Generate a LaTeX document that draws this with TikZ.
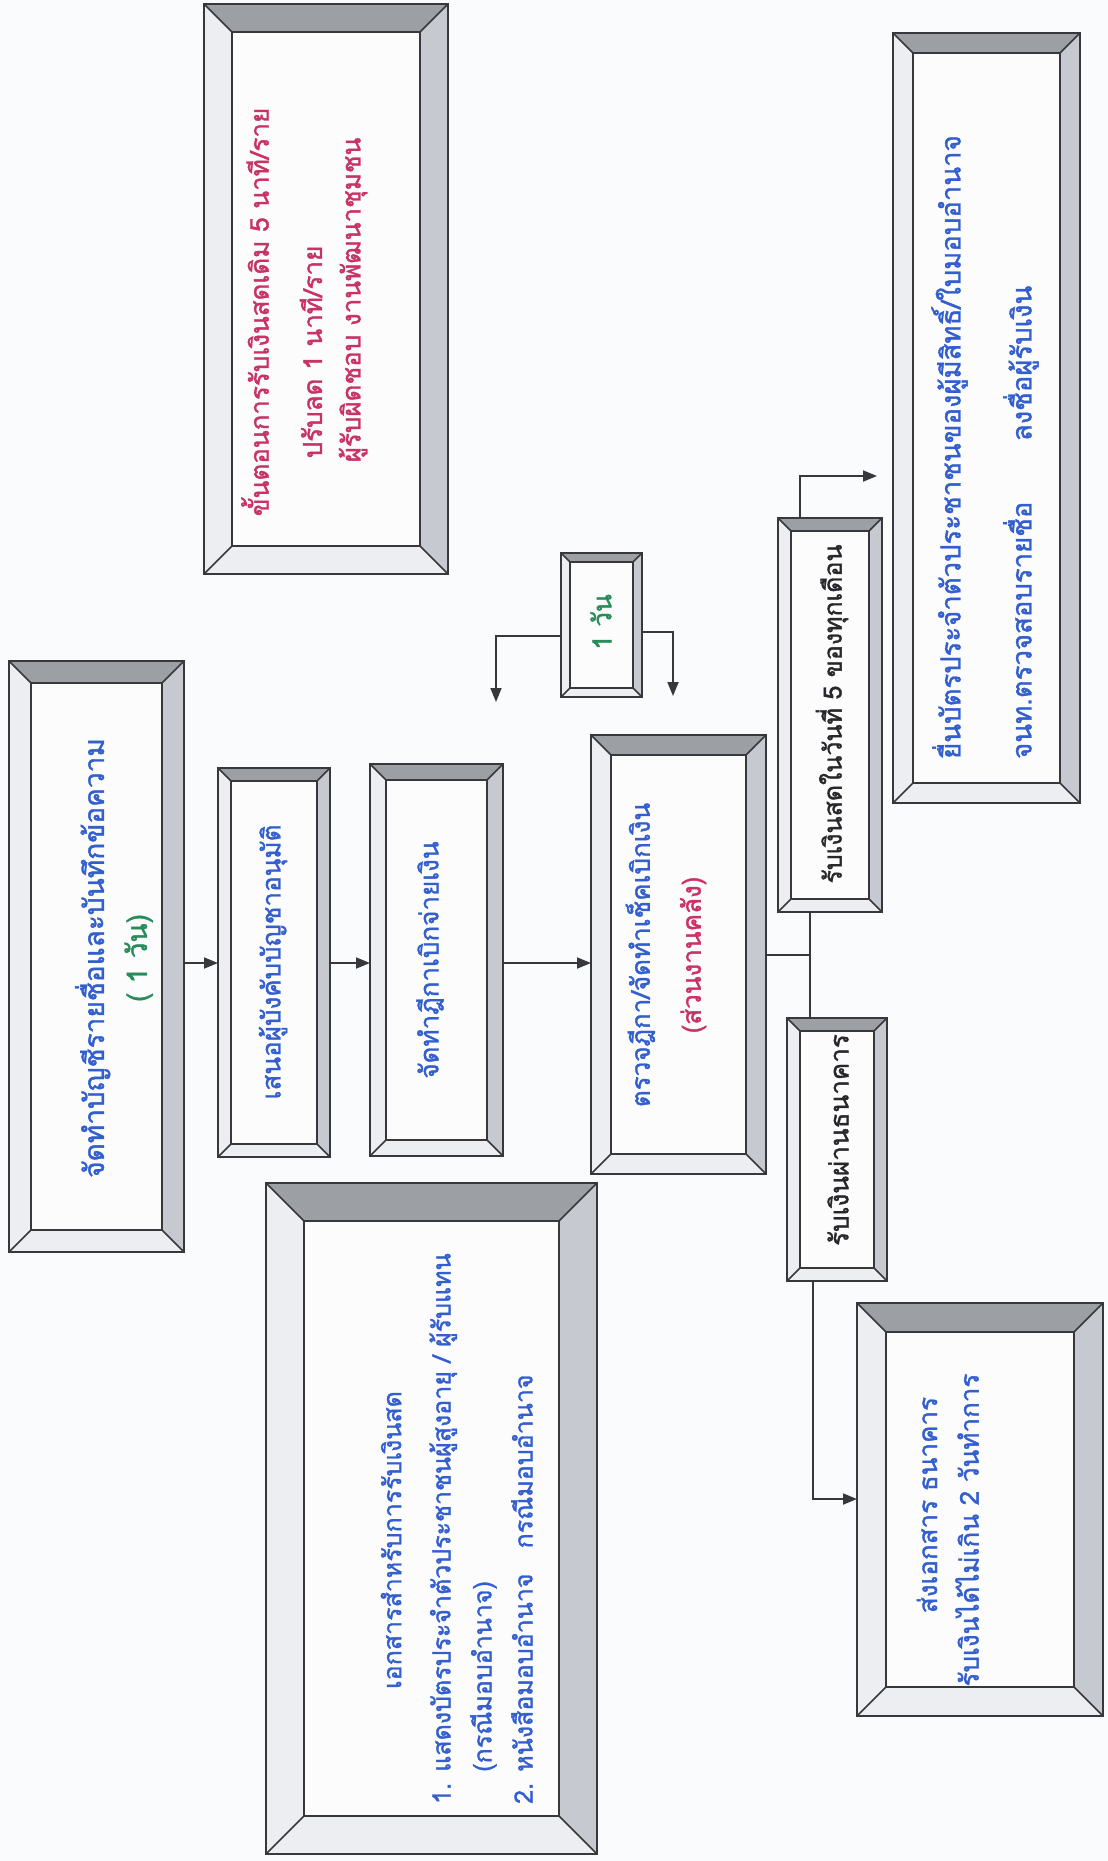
\documentclass[tikz,border=0pt]{standalone}
\usepackage{fontspec}
\newfontfamily\thai[Script=Thai, FakeBold=1.4]{Loma}
\usetikzlibrary{arrows.meta,calc}
\definecolor{bgc}{RGB}{250,251,252}
\definecolor{bvdark}{RGB}{156,159,164}
\definecolor{bvmid}{RGB}{198,202,208}
\definecolor{bvlight}{RGB}{236,238,241}
\definecolor{bvin}{RGB}{252,252,253}
\definecolor{lnc}{RGB}{55,55,60}
\definecolor{tblue}{RGB}{50,95,205}
\definecolor{tred}{RGB}{200,50,100}
\definecolor{tgreen}{RGB}{40,140,90}
\definecolor{tdark}{RGB}{40,40,44}
\tikzset{
  boxnode/.style={draw=none, inner sep=0pt, outer sep=0pt},
  bvline/.style={draw=lnc, line width=1.6pt, line join=miter},
  txt/.style={rotate=90, inner sep=0pt, font=\thai\fontsize{26}{46}\selectfont},
  conn/.style={draw=lnc, line width=1.8pt},
  arr/.style={conn, -{Triangle[length=14pt,width=11pt]}},
}
\newcommand\bevel[2]{%
  \fill[bvlight] (#1.north west) rectangle (#1.south east);
  \fill[bvdark] let \p1=(#1.north west), \p2=(#1.south east) in
    (\x1,\y1) -- (\x2,\y1) -- (\x2-#2pt,\y1-#2pt) -- (\x1+#2pt,\y1-#2pt) -- cycle;
  \fill[bvmid] let \p1=(#1.north west), \p2=(#1.south east) in
    (\x2,\y1) -- (\x2,\y2) -- (\x2-#2pt,\y2+#2pt) -- (\x2-#2pt,\y1-#2pt) -- cycle;
  \fill[bvin] let \p1=(#1.north west), \p2=(#1.south east) in
    (\x1+#2pt,\y1-#2pt) rectangle (\x2-#2pt,\y2+#2pt);
  \draw[bvline] let \p1=(#1.north west), \p2=(#1.south east) in
    (\x1,\y1) rectangle (\x2,\y2)
    (\x1+#2pt,\y1-#2pt) rectangle (\x2-#2pt,\y2+#2pt)
    (\x1,\y1) -- (\x1+#2pt,\y1-#2pt)
    (\x2,\y1) -- (\x2-#2pt,\y1-#2pt)
    (\x1,\y2) -- (\x1+#2pt,\y2+#2pt)
    (\x2,\y2) -- (\x2-#2pt,\y2+#2pt);
}
\newcommand\mkbox[6]{%
  \node[boxnode, minimum width={#4-#2}, minimum height={#5-#3}] (#1) at ({(#2+#4)/2},{(#3+#5)/2}) {};
  \bevel{#1}{#6}%
}
\begin{document}
\begin{tikzpicture}[x=1pt,y=-1pt]
\fill[bgc] (0,0) rectangle (1108,1861);
\useasboundingbox (0,0) rectangle (1108,1861);

\mkbox{b1}{204}{4}{448}{574}{28}
\mkbox{b2}{9}{661}{184}{1252}{22}
\mkbox{b3}{218}{768}{330}{1157}{13}
\mkbox{b4}{370}{764}{503}{1156}{16}
\mkbox{b5}{591}{735}{766}{1174}{20}
\mkbox{b6}{561}{553}{642}{697}{9}
\mkbox{b7}{778}{518}{882}{912}{13}
\mkbox{b8}{893}{33}{1080}{803}{20}
\mkbox{b9}{787}{1018}{887}{1281}{13}
\mkbox{b10}{857}{1303}{1103}{1716}{29}
\mkbox{b11}{266}{1183}{597}{1854}{38}

% texts
\node[txt, text=tred] (t1a) at (255,312) {ขั้นตอนการรับเงินสดเดิม 5 นาที/ราย};
\node[txt, text=tred] (t1b) at (311,352) {ปรับลด 1 นาที/ราย};
\node[txt, text=tred] (t1c) at (353,300) {ผู้รับผิดชอบ งานพัฒนาชุมชน};
\node[txt, align=center, font=\thai\fontsize{28}{43}\selectfont] (t2) at (114,958)
  {\textcolor{tblue}{จัดทำบัญชีรายชื่อและบันทึกข้อความ}\\\textcolor{tgreen}{( 1 วัน)}};
\node[txt, text=tblue] (t3) at (273,962) {เสนอผู้บังคับบัญชาอนุมัติ};
\node[txt, text=tblue] (t4) at (430,960) {จัดทำฎีกาเบิกจ่ายเงิน};
\node[txt, align=center, font=\thai\fontsize{26}{51}\selectfont] (t5) at (666,955)
  {\textcolor{tblue}{ตรวจฎีกา/จัดทำเช็คเบิกเงิน}\\\textcolor{tred}{(ส่วนงานคลัง)}};
\node[txt, text=tgreen] (t6) at (601,622) {1 วัน};
\node[txt, text=tdark, font=\thai\fontsize{25}{46}\selectfont] (t7) at (832,714) {รับเงินสดในวันที่ 5 ของทุกเดือน};
\node[txt, text=tblue, align=left, anchor=west, font=\thai\fontsize{27.5}{71}\selectfont] (t8) at (985,759)
  {ยื่นบัตรประจำตัวประชาชนของผู้มีสิทธิ์/ใบมอบอำนาจ\\จนท.ตรวจสอบรายชื่อ\hspace{2.2em}ลงชื่อผู้รับเงิน};
\node[txt, text=tdark] (t9) at (838,1140) {รับเงินผ่านธนาคาร};
\node[txt, text=tblue] (t10a) at (927,1505) {ส่งเอกสาร ธนาคาร};
\node[txt, text=tblue] (t10b) at (967,1530) {รับเงินได้ไม่เกิน 2 วันทำการ};
\node[txt, text=tblue, font=\thai\fontsize{25}{46}\selectfont] (t11a) at (391,1540) {เอกสารสำหรับการรับเงินสด};
\node[txt, text=tblue, align=left, anchor=west, font=\thai\fontsize{25}{41}\selectfont] (t11b) at (481,1804)
  {1. แสดงบัตรประจำตัวประชาชนผู้สูงอายุ / ผู้รับแทน\\\hphantom{1. }(กรณีมอบอำนาจ)\\2. หนังสือมอบอำนาจ\hspace{1em}กรณีมอบอำนาจ};

% connectors
\coordinate (ya) at (0,963);
\draw[arr] (b2.east |- ya) -- (b3.west |- ya);
\draw[arr] (b3.east |- ya) -- (b4.west |- ya);
\draw[arr] (b4.east |- ya) -- (b5.west |- ya);
\coordinate (J) at (810,955);
\draw[conn] (b5.east |- J) -- (J);
\draw[conn] (b7.south -| J) -- (b9.north -| J);
\coordinate (tA) at (800,476);
\coordinate (tB) at (877,476);
\draw[arr] (b7.north -| tA) -- (tA) -- (tB);
\coordinate (bA) at (813,1499);
\draw[arr] (b9.south -| bA) -- (bA) -- (b10.west |- bA);
\coordinate (lA) at (496,636);
\coordinate (lB) at (496,702);
\draw[arr] (b6.west |- lA) -- (lA) -- (lB);
\coordinate (rA) at (673,632);
\coordinate (rB) at (673,696);
\draw[arr] (b6.east |- rA) -- (rA) -- (rB);
\end{tikzpicture}
\end{document}
